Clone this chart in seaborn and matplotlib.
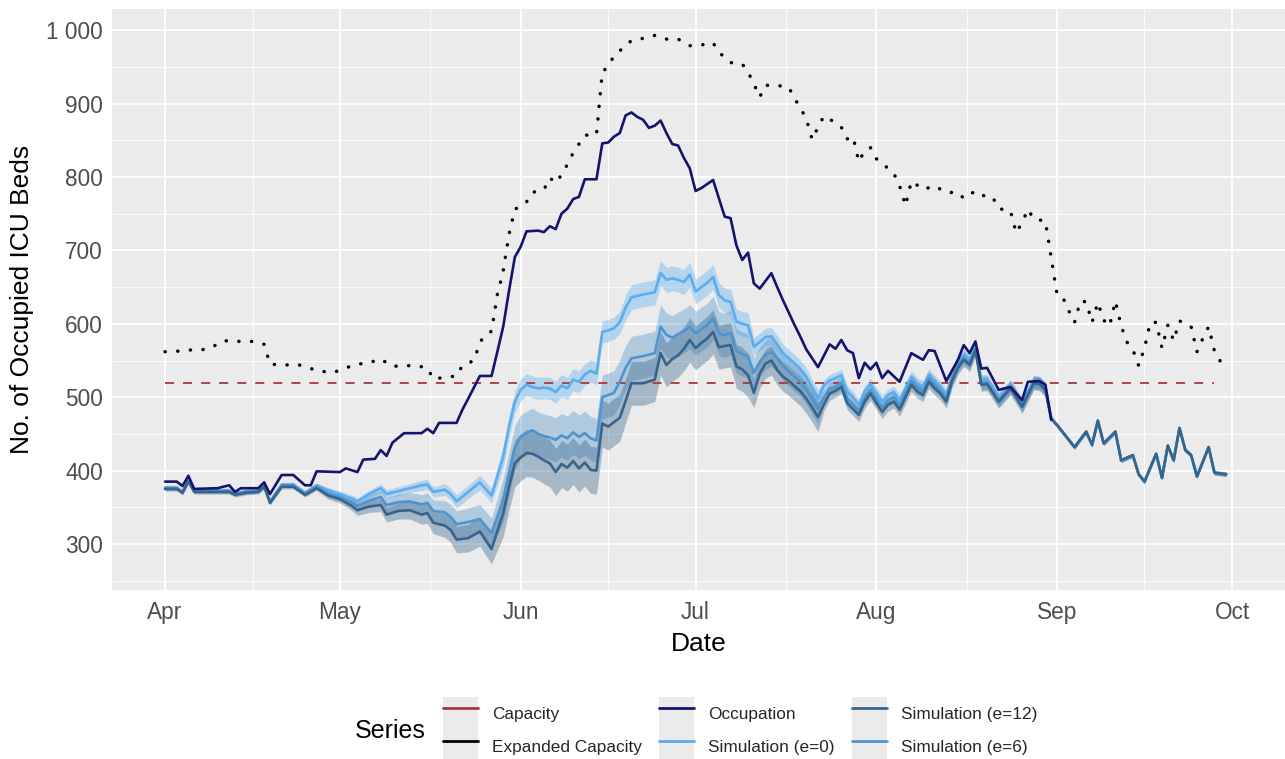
import numpy as np
import pandas as pd
import matplotlib
matplotlib.use("Agg")
import matplotlib.pyplot as plt
import matplotlib.dates as mdates
from matplotlib.patches import Rectangle
from matplotlib.lines import Line2D
from matplotlib.legend_handler import HandlerTuple
from matplotlib.ticker import FixedLocator, FuncFormatter
import seaborn as sns

# ---------------- data (day offsets from 1 April) ----------------
START = pd.Timestamp("2020-04-01")

capacity_days = [0, 180]
capacity_vals = [520, 520]

occ_days = [0, 2, 3, 4, 5, 9, 10, 11, 12, 13, 16, 17, 18, 20, 22, 24, 25, 26, 30, 31,
            33, 34, 36, 37, 38, 39, 41, 44, 45, 46, 47, 50, 51, 52, 54, 56, 57, 58, 59, 60,
            61, 62, 64, 65, 66, 67, 68, 69, 70, 71, 72, 74, 75, 76, 77, 78, 79, 80, 81, 82,
            83, 84, 85, 86, 87, 88, 89, 90, 91, 92, 94, 96, 97, 98, 99, 100, 101, 102, 104, 105,
            106, 107, 108, 109, 110, 112, 114, 115, 116, 117, 118, 119, 120, 121, 122, 123, 124, 126, 128, 130,
            131, 132, 134, 136, 137, 138, 139, 140, 141, 143, 145, 147, 148, 150, 151, 152]
occ_vals = [385, 385, 379, 393, 375, 376, 378, 380, 371, 376, 376, 384, 368, 394, 394, 380, 380, 399, 398, 403,
            398, 415, 416, 428, 420, 438, 451, 451, 457, 451, 465, 465, 483, 498, 529, 529, 562, 596, 645, 691,
            705, 726, 727, 725, 733, 729, 750, 757, 770, 773, 797, 797, 846, 847, 855, 860, 884, 888, 882, 878,
            867, 870, 877, 860, 845, 843, 826, 812, 781, 785, 796, 746, 744, 707, 687, 697, 655, 648, 669, 650,
            632, 615, 598, 582, 565, 541, 572, 566, 578, 564, 560, 526, 547, 538, 547, 526, 536, 521, 560, 551,
            564, 563, 522, 551, 571, 560, 576, 539, 540, 510, 514, 496, 521, 522, 517, 469]

exp_days = [0, 3, 5, 7, 9, 10, 13, 15, 17, 18, 20, 23, 25, 27, 29, 31, 33, 35, 37, 39,
            41, 43, 45, 46, 48, 50, 51, 53, 54, 55, 56, 57, 58, 59, 60, 62, 63, 65, 66, 67,
            68, 69, 70, 71, 72, 74, 75, 76, 77, 79, 80, 82, 84, 86, 88, 90, 92, 94, 95, 97,
            99, 100, 101, 102, 103, 105, 107, 108, 109, 110, 111, 112, 113, 114, 116, 117, 118, 119, 120, 121,
            122, 124, 125, 126, 127, 128, 129, 130, 132, 134, 136, 137, 139, 141, 142, 143, 145, 146, 147, 148,
            149, 151, 153, 154, 155, 156, 157, 158, 159, 160, 161, 162, 163, 164, 165, 166, 167, 168, 169, 170,
            171, 172, 173, 174, 175, 176, 177, 178, 179, 180, 181]
exp_vals = [562, 563, 565, 565, 572, 577, 576, 576, 572, 545, 544, 544, 539, 535, 534, 540, 545, 547, 552, 542,
            543, 543, 540, 525, 527, 529, 543, 550, 575, 585, 590, 640, 672, 722, 756, 766, 779, 783, 799, 792,
            803, 817, 833, 845, 857, 858, 943, 951, 965, 979, 986, 989, 993, 988, 988, 979, 980, 983, 970, 956,
            954, 943, 927, 909, 925, 925, 922, 907, 894, 879, 851, 868, 883, 879, 868, 852, 855, 821, 836, 840,
            825, 812, 805, 788, 761, 794, 789, 783, 788, 779, 779, 771, 781, 772, 772, 757, 754, 724, 738, 756,
            743, 740, 640, 636, 618, 602, 631, 630, 602, 629, 605, 597, 631, 597, 575, 565, 543, 567, 602, 602,
            567, 598, 577, 604, 600, 596, 562, 580, 596, 563, 549]

sim_days = [0, 2, 3, 4, 5, 8, 11, 12, 14, 16, 17, 18, 20, 22, 24, 26,
            28, 30, 32, 33, 35, 37, 38, 40, 42, 44, 45, 46, 48, 49, 50, 52, 54, 56,
            58, 59, 60, 61, 62, 63, 64, 65, 66, 67, 68, 69, 70, 71, 72, 73, 74, 75, 76, 77, 78,
            79, 80, 82, 84, 85, 86, 87, 88, 89, 90, 91, 92, 93, 94, 95, 96, 97, 98, 99, 100,
            101, 102, 103, 104, 105, 106, 107, 108, 109, 110, 111, 112,
            113, 114, 115, 116, 117, 118, 119, 120, 121, 122, 123, 124, 125, 126, 127, 128, 129, 130,
            131, 132, 133, 134, 135, 136, 137, 138, 139, 140, 141, 142, 143, 144, 145, 146, 147, 148,
            149, 150, 151,
            152, 153, 155, 156, 158, 159, 160, 161, 163, 164, 166, 167, 168, 170, 171, 172, 173, 174,
            175, 176, 177, 179, 180, 182]

sim_e0 = [377, 377, 371, 387, 373, 373, 373, 369, 372, 373, 380, 358, 381, 381, 370, 380,
          373, 368, 362, 358, 368, 376, 368, 372, 376, 380, 381, 371, 374, 368, 358, 371, 384, 366,
          419, 460, 494, 510, 517, 514, 512, 513, 512, 507, 516, 512, 524, 521, 531, 536, 532, 589, 591, 594, 602,
          622, 636, 640, 643, 669, 660, 662, 660, 657, 667, 644, 650, 656, 664, 639, 632, 630, 603, 600, 598,
          569, 575, 582, 583, 572, 560, 553, 546, 538, 528, 512, 498,
          516, 523, 526, 530, 508, 500, 490, 508, 518, 506, 494, 503, 507, 496, 512, 528, 519, 514,
          531, 522, 514, 503, 530, 548, 557, 550, 568, 523, 523, 511, 499, 507, 516, 504, 491, 507,
          522, 521, 513,
          471, 462, 442, 432, 453, 435, 468, 437, 453, 414, 421, 395, 385, 423, 390, 434, 414, 458,
          428, 421, 392, 432, 397, 395]

sim_e6 = [376, 376, 370, 386, 372, 372, 372, 368, 371, 372, 379, 357, 380, 380, 368, 378,
          369, 364, 357, 352, 359, 364, 353, 357, 358, 354, 356, 345, 343, 337, 327, 330, 334, 315,
          360, 396, 432, 446, 451, 455, 450, 447, 445, 442, 448, 444, 452, 446, 451, 444, 441, 500, 503, 506, 521,
          540, 553, 556, 560, 596, 585, 581, 586, 590, 596, 587, 593, 598, 608, 587, 584, 588, 563, 559, 556,
          533, 548, 558, 562, 553, 543, 535, 528, 521, 510, 497, 484,
          500, 512, 514, 520, 498, 490, 482, 500, 510, 498, 486, 496, 500, 489, 506, 522, 513, 508,
          526, 517, 509, 498, 526, 544, 554, 547, 566, 520, 520, 508, 496, 505, 514, 502, 489, 505,
          520, 519, 511,
          471, 462, 442, 432, 453, 435, 468, 437, 453, 414, 421, 395, 385, 423, 390, 434, 414, 458,
          428, 421, 392, 432, 397, 395]

sim_e12 = [375, 375, 370, 385, 371, 371, 371, 367, 370, 371, 378, 356, 378, 378, 367, 376,
           366, 361, 352, 346, 351, 353, 340, 345, 346, 340, 342, 329, 325, 319, 306, 308, 317, 293,
           342, 378, 410, 418, 424, 423, 419, 414, 410, 398, 409, 404, 413, 403, 411, 401, 400, 464, 460, 466, 472,
           495, 519, 519, 524, 560, 544, 552, 557, 566, 578, 567, 574, 580, 589, 568, 570, 571, 542, 538, 530,
           506, 532, 546, 550, 537, 528, 522, 515, 508, 498, 486, 473,
           490, 505, 509, 514, 492, 484, 476, 494, 505, 492, 480, 490, 494, 483, 500, 517, 508, 503,
           521, 512, 505, 494, 522, 540, 551, 544, 564, 517, 518, 506, 494, 503, 512, 500, 487, 503,
           519, 518, 510,
           471, 462, 442, 432, 453, 435, 468, 437, 453, 414, 421, 395, 385, 423, 390, 434, 414, 458,
           428, 421, 392, 432, 397, 395]

# half-widths of the simulation uncertainty ribbons (one per sim_days entry)
band_e0 = ([3] * 16 + [4, 4, 5, 5, 5, 6, 6, 6, 6, 7, 7, 7, 8, 8, 9, 9, 10, 10]
           + [15] * 21 + [17] * 20 + [12] * 12 + [8] * 39 + [3] * 24)
band_e6 = ([3] * 16 + [5, 5, 6, 7, 8, 9, 10, 11, 12, 13, 14, 15, 16, 17, 18, 19, 20, 20]
           + [30] * 21 + [30] * 20 + [20] * 12 + [9] * 39 + [3] * 24)
band_e12 = ([3] * 16 + [5, 5, 6, 7, 8, 9, 10, 11, 12, 13, 14, 15, 16, 17, 18, 19, 20, 20]
            + [32] * 21 + [30] * 20 + [20] * 12 + [9] * 39 + [3] * 24)

y_ticks = [300, 400, 500, 600, 700, 800, 900, 1000]

# ---------------- style ----------------
sns.set_theme(style="darkgrid")
plt.rcParams['font.family'] = ['Liberation Sans', 'DejaVu Sans']

C_CAP = '#A83838'
C_EXP = '#000000'
C_OCC = '#14146E'
C_E0 = '#5CACEE'
C_E6 = '#4F94CD'
C_E12 = '#36648B'

W, H = 1285, 759
fig = plt.figure(figsize=(W / 100, H / 100), dpi=100)
ax = fig.add_axes([112 / W, 1 - 590 / H, (1285 - 112) / W, (590 - 9) / H])
ax.set_facecolor('#EBEBEB')
for s in ax.spines.values():
    s.set_visible(False)


def to_dates(days):
    return START + pd.to_timedelta(np.asarray(days, dtype=float), unit='D')


sd = to_dates(sim_days)
e0 = np.array(sim_e0, float)
e6 = np.array(sim_e6, float)
e12 = np.array(sim_e12, float)

# ribbons
for vals, band, col in [(e0, band_e0, C_E0), (e6, band_e6, C_E6), (e12, band_e12, C_E12)]:
    b = np.array(band, float)
    ax.fill_between(sd, vals - b, vals + b, color=col, alpha=0.38, lw=0, zorder=2)

# capacity dashed
sns.lineplot(x=to_dates(capacity_days), y=capacity_vals, ax=ax, color=C_CAP, linewidth=1.3,
             linestyle=(0, (5, 5)), legend=False, zorder=3)
# expanded capacity dotted
sns.lineplot(x=to_dates(exp_days), y=exp_vals, ax=ax, color=C_EXP, linewidth=2.5,
             linestyle=(0, (0.05, 3.6)), dash_capstyle='round', legend=False, zorder=3)
# simulations
for vals, col in [(e0, C_E0), (e6, C_E6), (e12, C_E12)]:
    sns.lineplot(x=sd, y=vals, ax=ax, color=col, linewidth=1.9, legend=False, zorder=4)
# occupation
sns.lineplot(x=to_dates(occ_days), y=occ_vals, ax=ax, color=C_OCC, linewidth=1.9,
             legend=False, zorder=5)

# axes limits / ticks
ax.set_xlim(START - pd.Timedelta(days=9.1), START + pd.Timedelta(days=192.1))
ax.set_ylim(237.3, 1029)

month_starts = pd.date_range("2020-04-01", "2020-10-01", freq="MS")
ax.xaxis.set_major_locator(FixedLocator(mdates.date2num(month_starts)))
ax.xaxis.set_major_formatter(FuncFormatter(lambda v, p: mdates.num2date(v).strftime('%b')))
mids = [mdates.date2num(month_starts[i]) + (mdates.date2num(month_starts[i + 1]) - mdates.date2num(month_starts[i])) / 2
        for i in range(len(month_starts) - 1)]
ax.xaxis.set_minor_locator(FixedLocator(mids))

ax.yaxis.set_major_locator(FixedLocator(y_ticks))
ax.yaxis.set_major_formatter(FuncFormatter(lambda v, p: f"{int(v):,}".replace(",", " ")))
ax.yaxis.set_minor_locator(FixedLocator([250, 350, 450, 550, 650, 750, 850, 950]))

ax.grid(True, which='major', color='white', linewidth=1.3)
ax.grid(True, which='minor', color='white', linewidth=0.6)
ax.set_axisbelow(True)
ax.tick_params(axis='both', which='major', length=3.6, width=1.0, color='#333333',
               labelsize=16.3, labelcolor='#4D4D4D', pad=3)
ax.tick_params(axis='both', which='minor', length=0)
ax.tick_params(axis='x', which='major', pad=4)

ax.set_xlabel('Date', fontsize=19, color='black', labelpad=6)
ax.set_ylabel('No. of Occupied ICU Beds', fontsize=19, color='black', labelpad=9)

# legend (ggplot-style grey key boxes)
def key(col):
    return (Rectangle((0, 0), 1, 1, facecolor='#EBEBEB', edgecolor='none'),
            Line2D([], [], color=col, lw=2.0, linestyle='-'))

labels = ['Capacity', 'Expanded Capacity', 'Occupation', 'Simulation (e=0)',
          'Simulation (e=12)', 'Simulation (e=6)']
handles = [key(C_CAP), key(C_EXP), key(C_OCC), key(C_E0), key(C_E12), key(C_E6)]
fig.legend(handles, labels, handler_map={tuple: HandlerTuple(ndivide=1, pad=0)},
           ncol=3, loc='center', bbox_to_anchor=(740 / W, 1 - 730 / H),
           frameon=False, fontsize=12.4, handlelength=2.05, handleheight=2.58,
           labelspacing=0, handletextpad=0.8, columnspacing=1.0, borderpad=0,
           borderaxespad=0)
fig.text(355 / W, 1 - 731 / H, 'Series', fontsize=18, ha='left', va='center', color='black')

fig.savefig('out.png', dpi=100)
